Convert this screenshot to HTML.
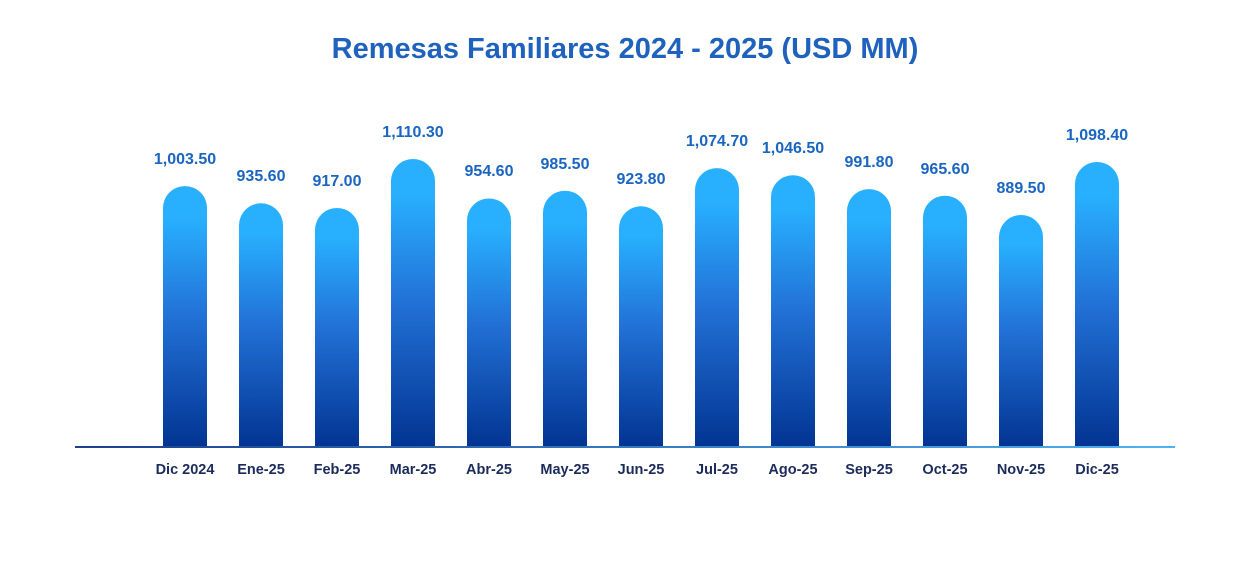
<!DOCTYPE html>
<html><head><meta charset="utf-8"><style>html,body{margin:0;padding:0;background:#fff}svg{display:block}</style></head>
<body>
<svg width="1250" height="580" viewBox="0 0 1250 580" xmlns="http://www.w3.org/2000/svg" font-family="Liberation Sans, sans-serif">
<defs>
<linearGradient id="g" x1="0" y1="0" x2="0" y2="1"><stop offset="0.12" stop-color="#28b0ff"/><stop offset="0.5" stop-color="#2271d6"/><stop offset="1" stop-color="#023492"/></linearGradient>
<linearGradient id="ax" x1="0" y1="0" x2="1" y2="0"><stop offset="0" stop-color="#1d3f8f"/><stop offset="1" stop-color="#4fb3f0"/></linearGradient>
</defs>
<text x="625" y="58" text-anchor="middle" font-size="29" font-weight="bold" fill="#1f62bd">Remesas Familiares 2024 - 2025 (USD MM)</text>
<g fill="url(#g)">
<path d="M163 447 V208.1 A22 22 0 0 1 207 208.1 V447 Z"/>
<path d="M239 447 V225.3 A22 22 0 0 1 283 225.3 V447 Z"/>
<path d="M315 447 V230 A22 22 0 0 1 359 230 V447 Z"/>
<path d="M391 447 V181 A22 22 0 0 1 435 181 V447 Z"/>
<path d="M467 447 V220.5 A22 22 0 0 1 511 220.5 V447 Z"/>
<path d="M543 447 V212.7 A22 22 0 0 1 587 212.7 V447 Z"/>
<path d="M619 447 V228.3 A22 22 0 0 1 663 228.3 V447 Z"/>
<path d="M695 447 V190.1 A22 22 0 0 1 739 190.1 V447 Z"/>
<path d="M771 447 V197.2 A22 22 0 0 1 815 197.2 V447 Z"/>
<path d="M847 447 V211.1 A22 22 0 0 1 891 211.1 V447 Z"/>
<path d="M923 447 V217.7 A22 22 0 0 1 967 217.7 V447 Z"/>
<path d="M999 447 V237 A22 22 0 0 1 1043 237 V447 Z"/>
<path d="M1075 447 V184 A22 22 0 0 1 1119 184 V447 Z"/>
</g>
<g text-anchor="middle" font-size="16" font-weight="bold" fill="#1a65c0">
<text x="185" y="164">1,003.50</text>
<text x="261" y="181">935.60</text>
<text x="337" y="186">917.00</text>
<text x="413" y="137">1,110.30</text>
<text x="489" y="176">954.60</text>
<text x="565" y="169">985.50</text>
<text x="641" y="184">923.80</text>
<text x="717" y="146">1,074.70</text>
<text x="793" y="153">1,046.50</text>
<text x="869" y="167">991.80</text>
<text x="945" y="174">965.60</text>
<text x="1021" y="193">889.50</text>
<text x="1097" y="140">1,098.40</text>
</g>
<rect x="75" y="446" width="1100" height="2" fill="url(#ax)"/>
<g text-anchor="middle" font-size="14.5" font-weight="bold" fill="#1b2b5c">
<text x="185" y="474">Dic 2024</text>
<text x="261" y="474">Ene-25</text>
<text x="337" y="474">Feb-25</text>
<text x="413" y="474">Mar-25</text>
<text x="489" y="474">Abr-25</text>
<text x="565" y="474">May-25</text>
<text x="641" y="474">Jun-25</text>
<text x="717" y="474">Jul-25</text>
<text x="793" y="474">Ago-25</text>
<text x="869" y="474">Sep-25</text>
<text x="945" y="474">Oct-25</text>
<text x="1021" y="474">Nov-25</text>
<text x="1097" y="474">Dic-25</text>
</g>
</svg>
</body></html>
